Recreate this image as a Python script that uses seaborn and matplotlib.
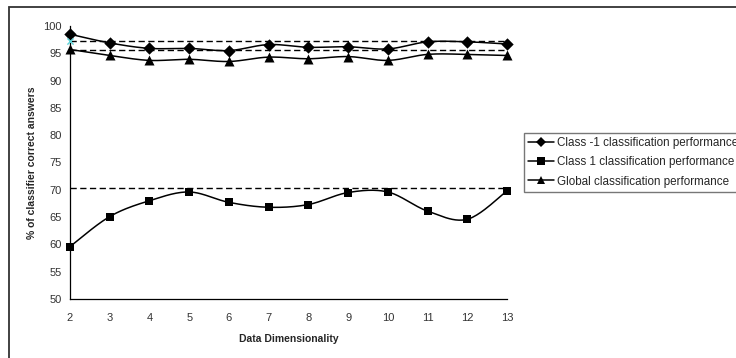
#Recreate the classifier performance vs data dimensionality line chart
import numpy as np
import pandas as pd
import matplotlib
matplotlib.use('Agg')
import matplotlib.pyplot as plt
import matplotlib.patches as patches
from matplotlib.lines import Line2D
import seaborn as sns

# Data
dimensionality = [2, 3, 4, 5, 6, 7, 8, 9, 10, 11, 12, 13]
class_minus1 = [98.5, 96.9, 95.9, 95.9, 95.5, 96.6, 96.1, 96.2, 95.8, 97.1, 97.1, 96.7]
class_plus1 = [59.6, 65.1, 68.0, 69.6, 67.7, 66.8, 67.3, 69.5, 69.6, 66.1, 64.6, 69.8]
global_perf = [95.7, 94.6, 93.7, 93.9, 93.5, 94.3, 94.0, 94.4, 93.7, 94.8, 94.8, 94.6]
reference_levels = [97.2, 95.6, 70.3]
stray_point_x = [2]
stray_point_y = [97.2]

series_labels = ["Class -1 classification performance",
                 "Class 1 classification performance",
                 "Global classification performance"]
series_markers = ['D', 's', '^']
series_sizes = [6.3, 6.3, 7.2]


def smooth_curve(x, y, steps=24):
    # Bezier smoothing similar to spreadsheet "smoothed line"
    p = np.column_stack([x, y]).astype(float)
    padded = np.vstack([p[0], p, p[-1]])
    out = []
    for i in range(len(p) - 1):
        p0, p1 = padded[i + 1], padded[i + 2]
        c1 = p0 + (padded[i + 2] - padded[i]) / 6.0
        c2 = p1 - (padded[i + 3] - padded[i + 1]) / 6.0
        t = np.linspace(0, 1, steps, endpoint=(i == len(p) - 2))[:, None]
        seg = ((1 - t) ** 3) * p0 + 3 * ((1 - t) ** 2) * t * c1 + 3 * (1 - t) * t ** 2 * c2 + t ** 3 * p1
        out.append(seg)
    out = np.vstack(out)
    return out[:, 0], out[:, 1]


sns.set_style("white")
plt.rcParams['font.family'] = ['Liberation Sans', 'DejaVu Sans']

fig = plt.figure(figsize=(7.36, 3.58), dpi=100)
ax = fig.add_axes([70 / 736, 1 - 299 / 358, 437 / 736, 273 / 358])

# Dashed reference levels
for level in reference_levels:
    ax.axhline(level, color='black', lw=1.0, dashes=(4.5, 2.5), zorder=1)

for values, marker, ms in zip([class_minus1, class_plus1, global_perf], series_markers, series_sizes):
    sx, sy = smooth_curve(dimensionality, values)
    curve = pd.DataFrame({'x': sx, 'y': sy})
    sns.lineplot(data=curve, x='x', y='y', sort=False, estimator=None, color='black', lw=1.1, ax=ax, zorder=2)
    pts = pd.DataFrame({'x': dimensionality, 'y': values})
    sns.scatterplot(data=pts, x='x', y='y', marker=marker, s=ms ** 2, color='black', edgecolor='black',
                    linewidth=0, ax=ax, zorder=3, clip_on=False)

sns.scatterplot(x=stray_point_x, y=stray_point_y, marker='x', s=20, color='#5fd3d8', linewidth=1, ax=ax,
                zorder=4, clip_on=False)

ax.set_xlim(2, 13)
ax.set_ylim(50, 100)
ax.set_xticks(dimensionality)
ax.set_yticks(np.arange(50, 101, 5))
ax.tick_params(axis='both', direction='out', length=3, width=0.8, colors='black', labelsize=8,
               labelcolor='#333333')
ax.tick_params(axis='x', pad=7)
ax.tick_params(axis='y', pad=3)
sns.despine(ax=ax)
for side in ['left', 'bottom']:
    ax.spines[side].set_linewidth(0.9)
    ax.spines[side].set_color('black')

ax.set_xlabel('Data Dimensionality', fontsize=7.5, fontweight='bold')
ax.set_ylabel('% of classifier correct answers', fontsize=7.5, fontweight='bold')
ax.xaxis.set_label_coords(0.5, -0.13)
ax.yaxis.set_label_coords(-0.075, 0.5)

# Legend box outside plot area, clipped at right edge like the reference
handles = [Line2D([0], [0], color='black', lw=1.1, marker=m, markersize=s * 0.85, markeredgewidth=0)
           for m, s in zip(series_markers, series_sizes)]
leg = fig.legend(handles, series_labels, loc='upper left', bbox_to_anchor=(524 / 736, 1 - 133 / 358),
                 fontsize=8.4, frameon=True, fancybox=False, shadow=False, borderpad=0.35,
                 labelspacing=0.62, handlelength=2.2, handletextpad=0.3, borderaxespad=0)
leg.get_frame().set_edgecolor('#555555')
leg.get_frame().set_linewidth(1.0)

# Outer chart frame
fig.patches.append(patches.Rectangle((9 / 736, -0.1), 1.2, 1.1 - 7 / 358, transform=fig.transFigure,
                                     fill=False, edgecolor='#333333', lw=1.3))

fig.savefig('out.png', dpi=100)
